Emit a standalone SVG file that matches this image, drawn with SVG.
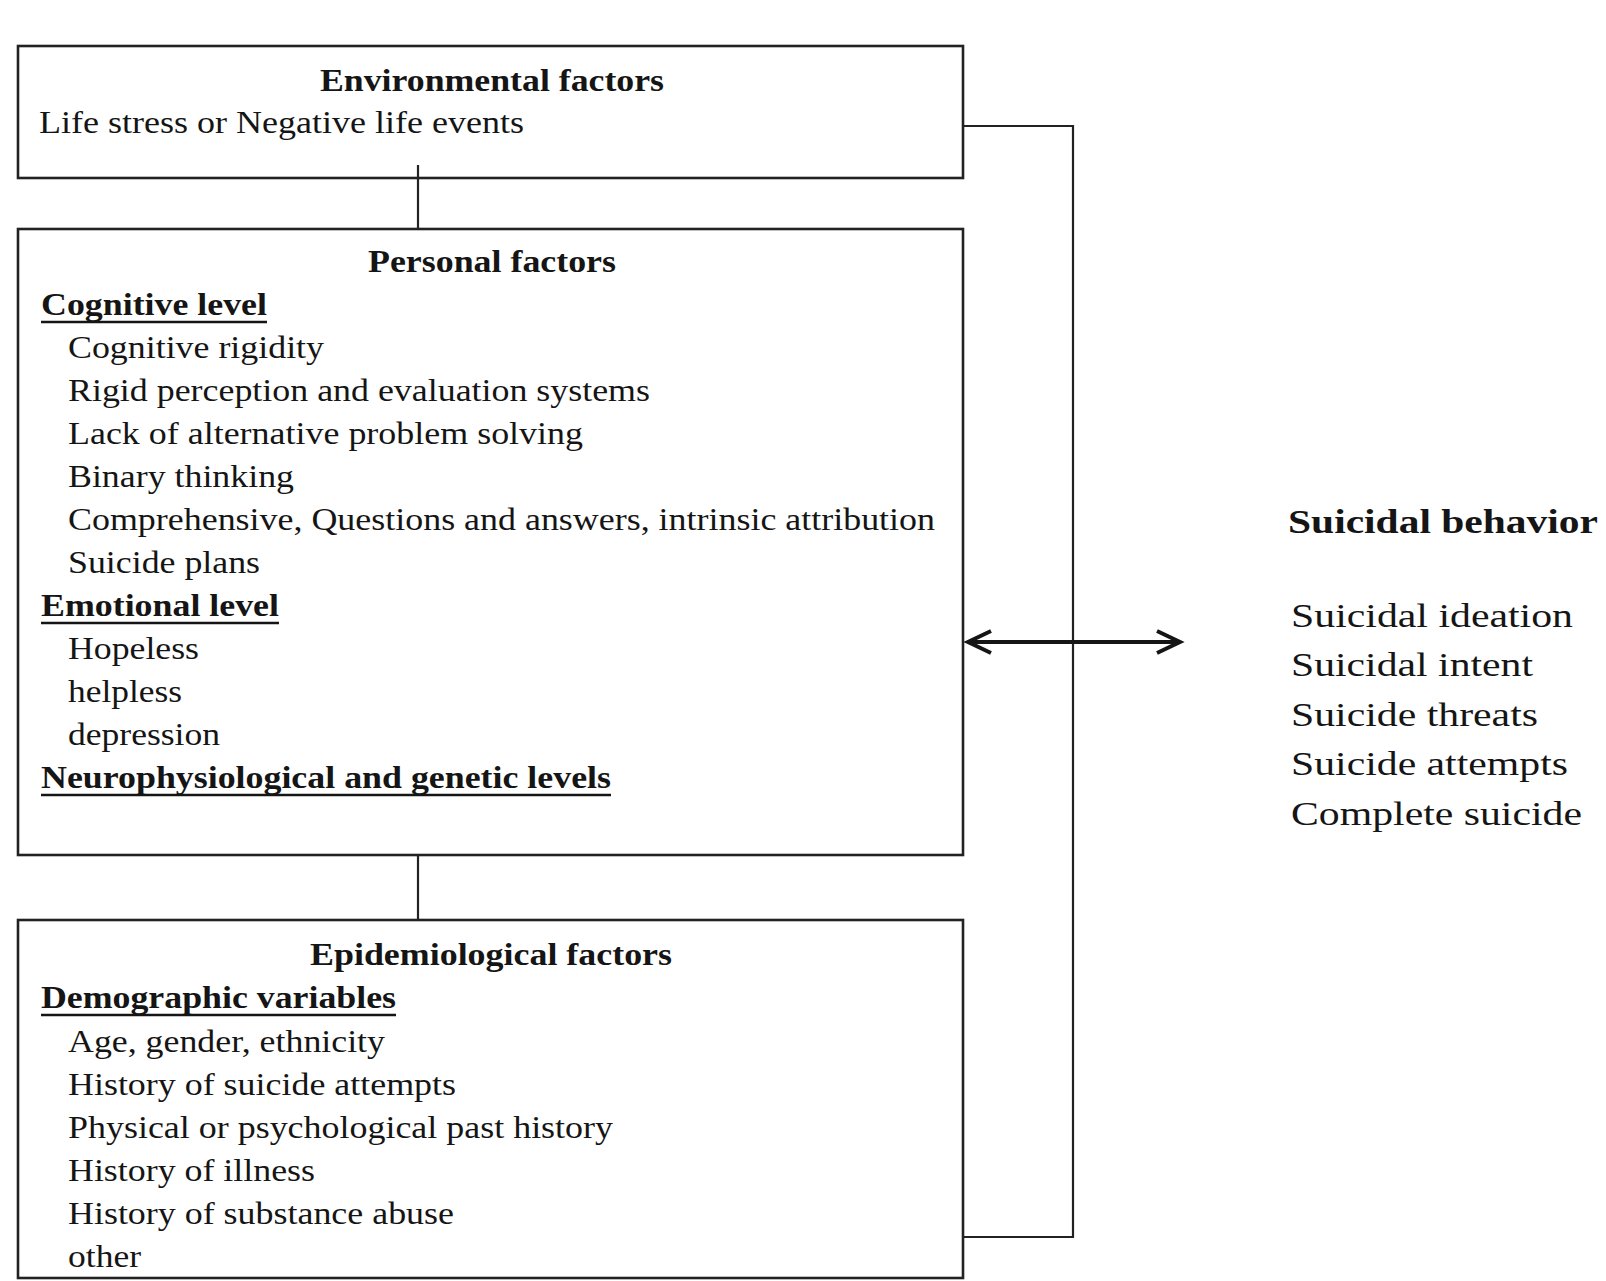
<svg xmlns="http://www.w3.org/2000/svg" width="1606" height="1281" viewBox="0 0 1606 1281">
<defs>
<style>
.box{fill:#fff;stroke:#222;stroke-width:2.6}
.t{font-family:"Liberation Serif","Times New Roman",serif;font-size:32.5px;fill:#151515}
.b{font-weight:bold}
.r{font-family:"Liberation Serif","Times New Roman",serif;font-size:34px;fill:#151515}
.ul{stroke:#151515;stroke-width:2.4}
.con{fill:none;stroke:#222;stroke-width:2.2}
.arr{fill:none;stroke:#151515;stroke-width:4}
</style>
<marker id="chev" viewBox="-27 -15 32 30" markerWidth="32" markerHeight="30" refX="0" refY="0" orient="auto-start-reverse" markerUnits="userSpaceOnUse" overflow="visible">
<path d="M-23,-11 L0,0 L-23,11" fill="none" stroke="#151515" stroke-width="4" stroke-linejoin="miter"/>
</marker>
</defs>
<rect width="1606" height="1281" fill="#fff"/>

<g id="environmental">
<rect class="box" x="18" y="46" width="945" height="132"/>
<text class="t b" x="320" y="91" textLength="344" lengthAdjust="spacingAndGlyphs">Environmental factors</text>
<text class="t" x="39" y="133" textLength="485" lengthAdjust="spacingAndGlyphs">Life stress or Negative life events</text>
</g>

<g id="personal">
<rect class="box" x="18" y="229" width="945" height="626"/>
<text class="t b" x="368" y="272" textLength="248" lengthAdjust="spacingAndGlyphs">Personal factors</text>
<text class="t b" x="41" y="315" textLength="226" lengthAdjust="spacingAndGlyphs">Cognitive level</text>
<line class="ul" x1="41" y1="322" x2="267" y2="322"/>
<text class="t" x="68" y="358" textLength="256" lengthAdjust="spacingAndGlyphs">Cognitive rigidity</text>
<text class="t" x="68" y="401" textLength="582" lengthAdjust="spacingAndGlyphs">Rigid perception and evaluation systems</text>
<text class="t" x="68" y="444" textLength="515" lengthAdjust="spacingAndGlyphs">Lack of alternative problem solving</text>
<text class="t" x="68" y="487" textLength="226" lengthAdjust="spacingAndGlyphs">Binary thinking</text>
<text class="t" x="68" y="530" textLength="867" lengthAdjust="spacingAndGlyphs">Comprehensive, Questions and answers, intrinsic attribution</text>
<text class="t" x="68" y="573" textLength="192" lengthAdjust="spacingAndGlyphs">Suicide plans</text>
<text class="t b" x="41" y="616" textLength="238" lengthAdjust="spacingAndGlyphs">Emotional level</text>
<line class="ul" x1="41" y1="623" x2="279" y2="623"/>
<text class="t" x="68" y="659" textLength="131" lengthAdjust="spacingAndGlyphs">Hopeless</text>
<text class="t" x="68" y="702" textLength="114" lengthAdjust="spacingAndGlyphs">helpless</text>
<text class="t" x="68" y="745" textLength="152" lengthAdjust="spacingAndGlyphs">depression</text>
<text class="t b" x="41" y="788" textLength="570" lengthAdjust="spacingAndGlyphs">Neurophysiological and genetic levels</text>
<line class="ul" x1="41" y1="795" x2="611" y2="795"/>
</g>

<g id="epidemiological">
<rect class="box" x="18" y="920" width="945" height="358"/>
<text class="t b" x="310" y="965" textLength="362" lengthAdjust="spacingAndGlyphs">Epidemiological factors</text>
<text class="t b" x="41" y="1008" textLength="355" lengthAdjust="spacingAndGlyphs">Demographic variables</text>
<line class="ul" x1="41" y1="1015" x2="396" y2="1015"/>
<text class="t" x="68" y="1052" textLength="317" lengthAdjust="spacingAndGlyphs">Age, gender, ethnicity</text>
<text class="t" x="68" y="1095" textLength="388" lengthAdjust="spacingAndGlyphs">History of suicide attempts</text>
<text class="t" x="68" y="1138" textLength="545" lengthAdjust="spacingAndGlyphs">Physical or psychological past history</text>
<text class="t" x="68" y="1181" textLength="247" lengthAdjust="spacingAndGlyphs">History of illness</text>
<text class="t" x="68" y="1224" textLength="386" lengthAdjust="spacingAndGlyphs">History of substance abuse</text>
<text class="t" x="68" y="1267" textLength="73" lengthAdjust="spacingAndGlyphs">other</text>
</g>

<g id="suicidal-behavior">
<text class="r b" x="1288" y="533" textLength="310" lengthAdjust="spacingAndGlyphs">Suicidal behavior</text>
<text class="r" x="1291" y="627" textLength="282" lengthAdjust="spacingAndGlyphs">Suicidal ideation</text>
<text class="r" x="1291" y="676" textLength="242" lengthAdjust="spacingAndGlyphs">Suicidal intent</text>
<text class="r" x="1291" y="726" textLength="247" lengthAdjust="spacingAndGlyphs">Suicide threats</text>
<text class="r" x="1291" y="775" textLength="277" lengthAdjust="spacingAndGlyphs">Suicide attempts</text>
<text class="r" x="1291" y="825" textLength="291" lengthAdjust="spacingAndGlyphs">Complete suicide</text>
</g>

<g id="connectors">
<path class="con" d="M964,126 H1073 V1237 H964"/>
<line class="con" x1="418" y1="165" x2="418" y2="228"/>
<line class="con" x1="418" y1="856" x2="418" y2="919"/>
<line class="arr" x1="968" y1="642" x2="1180" y2="642" marker-start="url(#chev)" marker-end="url(#chev)"/>
</g>
</svg>
